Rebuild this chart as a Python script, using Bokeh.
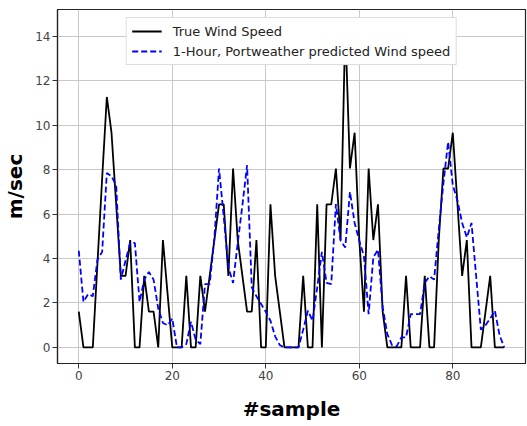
from bokeh.plotting import figure
from bokeh.models import Range1d, Legend, LegendItem, FixedTicker
from bokeh.embed import file_html
from bokeh.resources import INLINE

sample = list(range(92))

true_speed = [
    1.61, 0, 0, 0, 3.8, 7.6, 11.27, 9.66, 6.44, 3.22,
    3.22, 4.83, 0, 0, 3.22, 1.61, 1.61, 0, 4.83, 2.4,
    0, 0, 0, 3.22, 0, 0, 3.22, 1.61, 3.22, 4.83,
    6.44, 6.44, 3.22, 8.05, 4.83, 3.22, 1.61, 1.61, 4.83, 0,
    0, 6.44, 3.22, 1.61, 0, 0, 0, 0, 3.22, 0,
    0, 6.44, 0, 6.44, 6.44, 8.05, 4.83, 14.48, 8.05, 9.66,
    4.83, 1.61, 8.05, 4.83, 6.44, 1.61, 0, 0, 0, 0,
    3.22, 0, 0, 0, 3.22, 0, 0, 4.83, 8.05, 8.05,
    9.66, 6.44, 3.22, 4.83, 0, 0, 0, 1.61, 3.22, 0,
    0, 0,
]

pred_speed = [
    4.35, 2.05, 2.4, 2.3, 3.95, 4.3, 7.85, 7.7, 7.3, 3.05,
    3.9, 4.7, 4.7, 2.05, 3.05, 3.4, 3.05, 1.75, 1.1, 1.0,
    1.3, 0, 0, 0.15, 1.15, 0.35, 0.15, 2.85, 2.85, 4.9,
    8.05, 5.9, 3.6, 2.9, 4.7, 6.4, 8.2, 2.7, 2.3, 1.95,
    1.6, 1.2, 0.5, 0.1, 0, 0, 0, 0, 0.8, 1.65,
    1.2, 2.7, 4.3, 2.9, 2.85, 6.45, 4.8, 4.5, 7.0, 5.6,
    4.8, 4.1, 1.5, 4.05, 4.4, 1.8, 0.6, 0.1, 0.05, 0.45,
    0.45, 1.5, 1.5, 1.5, 2.9, 3.2, 3.05, 5.3, 7.4, 9.25,
    7.3, 6.6, 5.6, 4.95, 5.6, 3.2, 0.8, 1.0, 1.3, 1.65,
    0.55, 0,
]

x_ticks = [0, 20, 40, 60, 80]
y_ticks = [0, 2, 4, 6, 8, 10, 12, 14]

label_true = "True Wind Speed"
label_pred = "1-Hour, Portweather predicted Wind speed"

xpad = 0.05 * (sample[-1] - sample[0])
ymax = max(max(true_speed), max(pred_speed))
ypad = 0.05 * ymax

p = figure(width=527, height=426, output_backend="svg", toolbar_location=None,
           x_range=Range1d(sample[0] - xpad, sample[-1] + xpad),
           y_range=Range1d(-ypad, ymax + ypad))

p.min_border_left = 57
p.min_border_bottom = 63
p.min_border_top = 9
p.min_border_right = 2
p.background_fill_color = "white"
p.border_fill_color = "white"
p.outline_line_color = "#222222"
p.outline_line_width = 1.2

r_true = p.line(sample, true_speed, line_color="black", line_width=1.8)
r_pred = p.line(sample, pred_speed, line_color="#0000ff", line_width=1.8,
                line_dash="6 3")

font = "DejaVu Sans"
for ax in (p.xaxis[0], p.yaxis[0]):
    ax.axis_label_text_font = font
    ax.axis_label_text_font_style = "bold"
    ax.axis_label_text_font_size = "20px"
    ax.axis_label_text_color = "black"
    ax.major_label_text_font = font
    ax.major_label_text_font_size = "12px"
    ax.major_label_text_color = "#444444"
    ax.major_tick_out = 5
    ax.major_tick_in = 0
    ax.minor_tick_out = 0
    ax.minor_tick_in = 0
    ax.major_tick_line_color = "#333333"
    ax.axis_line_color = "#222222"
    ax.axis_line_width = 1.2
    ax.major_label_standoff = 2

p.xaxis.axis_label = "#sample"
p.yaxis.axis_label = "m/sec"
p.xaxis.axis_label_standoff = 14
p.yaxis.axis_label_standoff = 5
p.xaxis.ticker = FixedTicker(ticks=x_ticks)
p.yaxis.ticker = FixedTicker(ticks=y_ticks)

p.grid.grid_line_color = "#c8c8c8"
p.grid.grid_line_width = 1

legend = Legend(items=[LegendItem(label=label_true, renderers=[r_true]),
                       LegendItem(label=label_pred, renderers=[r_pred])],
                location="top_center")
legend.label_text_font = font
legend.label_text_font_size = "13px"
legend.label_text_color = "#222222"
legend.glyph_width = 30
legend.glyph_height = 16
legend.label_height = 16
legend.label_standoff = 11
legend.spacing = 4
legend.padding = 5
legend.margin = 8
legend.border_line_color = "#bbbbbb"
legend.border_line_width = 1.2
legend.background_fill_color = "white"
legend.background_fill_alpha = 1.0
p.add_layout(legend, "center")

open("out.html", "w").write(file_html(p, INLINE))
